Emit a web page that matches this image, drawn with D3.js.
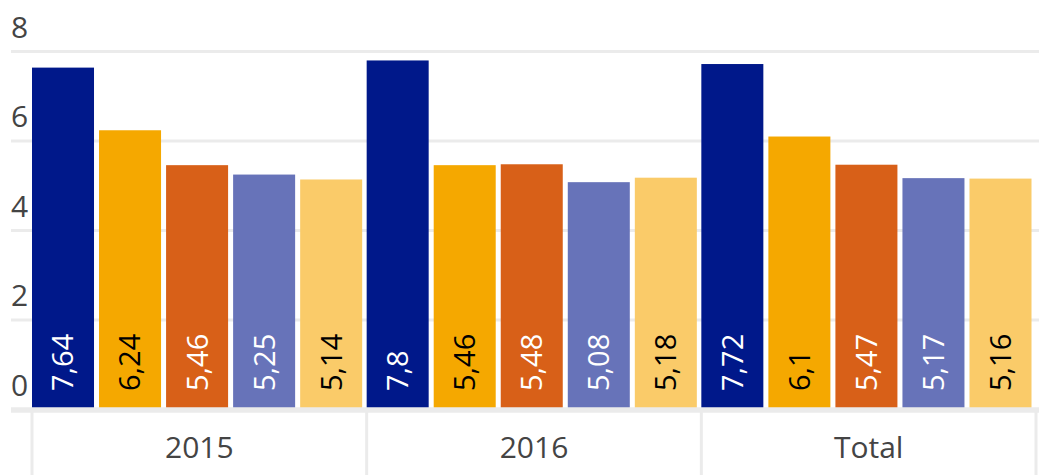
<!DOCTYPE html>
<html>
<head>
<meta charset="utf-8">
<script src="https://cdn.jsdelivr.net/npm/d3@7"></script>
<style>
  body { margin: 0; background: #fff; }
  text { font-family: "Open Sans", sans-serif; }
</style>
</head>
<body>
<div id="chart"></div>
<script>
// chart data
var categories = ["2015", "2016", "Total"];
var seriesNames = ["s1", "s2", "s3", "s4", "s5"];
var values2015 = [7.64, 6.24, 5.46, 5.25, 5.14];
var values2016 = [7.8, 5.46, 5.48, 5.08, 5.18];
var valuesTotal = [7.72, 6.1, 5.47, 5.17, 5.16];
var yTicks = [0, 2, 4, 6, 8];

var colors = ["#00188a", "#f5a800", "#d86018", "#6773b9", "#facb69"];
var labelColors = ["#fff", "#000", "#fff", "#fff", "#000"];

var svgWidth = 1039;
var svgHeight = 475;

var allValues = [values2015, values2016, valuesTotal];
var rows = [];
categories.forEach((c, i) => {
  allValues[i].forEach((v, j) => rows.push({ cat: c, series: j, value: v }));
});

var svg = d3.select("#chart")
  .append("svg")
  .attr("width", svgWidth)
  .attr("height", svgHeight);

var yScale = d3.scaleLinear()
  .domain([0, 8])
  .range([409.5, 51.5]);

var xGroup = d3.scaleBand()
  .domain(categories)
  .range([32, 1036])
  .padding(0);

var xInner = d3.scaleBand()
  .domain(d3.range(seriesNames.length))
  .range([0, xGroup.bandwidth() - 4.5])
  .paddingInner(0.075);

// gridlines
var grid = svg.append("g");
grid.selectAll("line")
  .data(yTicks.filter(d => d > 0))
  .enter()
  .append("line")
  .attr("x1", 11)
  .attr("x2", svgWidth)
  .attr("y1", d => yScale(d))
  .attr("y2", d => yScale(d))
  .attr("stroke", "#ebebeb")
  .attr("stroke-width", 3);

// y labels
svg.append("g").selectAll("text")
  .data(yTicks)
  .enter()
  .append("text")
  .attr("x", 11)
  .attr("y", d => yScale(d) - 14)
  .attr("fill", "#444")
  .style("font-size", "30px")
  .text(d => d);

// bars
var bars = svg.append("g").selectAll("rect")
  .data(rows)
  .enter()
  .append("rect")
  .attr("x", d => xGroup(d.cat) + xInner(d.series))
  .attr("width", xInner.bandwidth())
  .attr("y", d => yScale(d.value))
  .attr("height", d => yScale(0) - yScale(d.value))
  .attr("fill", d => colors[d.series]);

// bar labels
svg.append("g").selectAll("text")
  .data(rows)
  .enter()
  .append("text")
  .attr("transform", d => {
    var cx = xGroup(d.cat) + xInner(d.series) + xInner.bandwidth() / 2;
    return `translate(${cx}, 391) rotate(-90)`;
  })
  .attr("dy", "0.36em")
  .attr("fill", d => labelColors[d.series])
  .style("font-size", "29px")
  .text(d => String(d.value).replace(".", ","));

// category axis
var axis = svg.append("g");
axis.append("line")
  .attr("x1", 11)
  .attr("x2", svgWidth)
  .attr("y1", 410)
  .attr("y2", 410)
  .attr("stroke", "#ebebeb")
  .attr("stroke-width", 5.5);

var seps = categories.map(c => xGroup(c)).concat([xGroup.range()[1]]);
axis.selectAll(".sep")
  .data(seps)
  .enter()
  .append("line")
  .attr("class", "sep")
  .attr("x1", d => d)
  .attr("x2", d => d)
  .attr("y1", 412)
  .attr("y2", svgHeight)
  .attr("stroke", "#ebebeb")
  .attr("stroke-width", 3);

axis.selectAll(".cat")
  .data(categories)
  .enter()
  .append("text")
  .attr("class", "cat")
  .attr("x", d => xGroup(d) + xGroup.bandwidth() / 2)
  .attr("y", 458)
  .attr("text-anchor", "middle")
  .attr("fill", "#444")
  .style("font-size", "30px")
  .text(d => d);
</script>
</body>
</html>
